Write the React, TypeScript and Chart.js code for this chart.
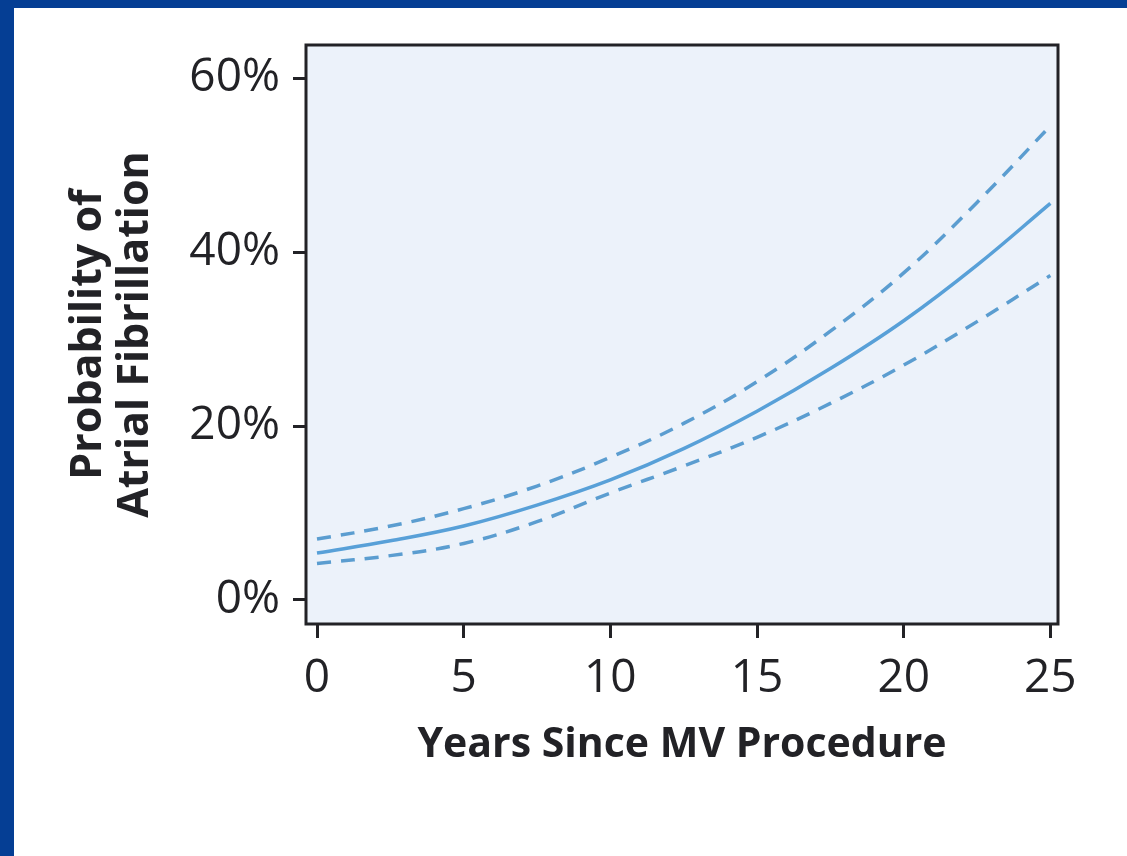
import React, { useEffect, useRef } from "react";
import { Chart, registerables } from "chart.js";

Chart.register(...registerables);

const years = [0, 2.5, 5, 7.5, 10, 12.5, 15, 17.5, 20, 22.5, 25];
const fitted = [5.4, 6.8, 8.5, 10.9, 13.8, 17.4, 21.7, 26.6, 32.1, 38.5, 45.6];
const upperCI = [7.0, 8.5, 10.5, 13.1, 16.4, 20.3, 25.1, 30.9, 37.6, 45.7, 54.5];
const lowerCI = [4.2, 5.1, 6.5, 9.0, 12.3, 15.4, 18.7, 22.6, 27.0, 32.0, 37.3];
const yTicks = [0, 20, 40, 60];
const xTicks = [0, 5, 10, 15, 20, 25];

const FONT = "'Open Sans', 'DejaVu Sans', sans-serif";
const INK = "#222226";

const framePlugin = {
  id: "frame",
  beforeDatasetsDraw(chart: any) {
    const { ctx, chartArea: a } = chart;
    ctx.save();
    ctx.fillStyle = "#ecf2fa";
    ctx.fillRect(a.left, a.top, a.right - a.left, a.bottom - a.top);
    ctx.restore();
  },
  afterDraw(chart: any) {
    const { ctx, chartArea: a } = chart;
    ctx.save();
    ctx.strokeStyle = INK;
    ctx.lineWidth = 3;
    ctx.strokeRect(a.left, a.top, a.right - a.left, a.bottom - a.top);
    ctx.restore();
  },
};

export default function App() {
  const ref = useRef<HTMLCanvasElement | null>(null);
  useEffect(() => {
    if (!ref.current) return;
    const toPts = (arr: number[]) => years.map((x, i) => ({ x, y: arr[i] }));
    const common = {
      pointRadius: 0,
      borderWidth: 3.5,
      tension: 0.4,
      fill: false,
    };
    const chart = new Chart(ref.current, {
      type: "line",
      data: {
        datasets: [
          {
            ...common,
            label: "Upper",
            data: toPts(upperCI),
            borderColor: "#5b9dd0",
            borderDash: [14, 10],
          },
          {
            ...common,
            label: "Fitted",
            data: toPts(fitted),
            borderColor: "#58a0d8",
          },
          {
            ...common,
            label: "Lower",
            data: toPts(lowerCI),
            borderColor: "#5b9dd0",
            borderDash: [14, 10],
          },
        ],
      },
      options: {
        responsive: false,
        animation: false,
        layout: { padding: { left: 0, top: 45, right: 69, bottom: 0 } },
        plugins: { legend: { display: false }, tooltip: { enabled: false } },
        scales: {
          x: {
            type: "linear",
            min: -0.375,
            max: 25.26,
            afterBuildTicks: (s: any) => {
              s.ticks = xTicks.map((v) => ({ value: v }));
            },
            afterFit: (s: any) => {
              s.height = 232;
            },
            border: { display: false },
            grid: {
              drawOnChartArea: false,
              drawTicks: true,
              tickLength: 14,
              color: INK,
              lineWidth: 3,
            },
            ticks: {
              color: INK,
              padding: 13,
              maxRotation: 0,
              font: { family: FONT, size: 46, weight: 500 },
              callback: (v: any) => String(v),
            },
            title: {
              display: true,
              text: "Years Since MV Procedure",
              color: INK,
              font: { family: FONT, size: 41, weight: "bold", lineHeight: 1.2 },
              padding: { top: 0, bottom: 86 },
            },
          },
          y: {
            type: "linear",
            min: -2.76,
            max: 63.8,
            afterBuildTicks: (s: any) => {
              s.ticks = yTicks.map((v) => ({ value: v }));
            },
            afterFit: (s: any) => {
              s.width = 306;
            },
            border: { display: false },
            grid: {
              drawOnChartArea: false,
              drawTicks: true,
              tickLength: 13,
              color: INK,
              lineWidth: 3,
            },
            ticks: {
              color: INK,
              padding: 13,
              font: { family: FONT, size: 46, weight: 500 },
              callback: (v: any) => v + "%",
            },
            title: {
              display: true,
              text: ["Probability of", "Atrial Fibrillation"],
              color: INK,
              font: { family: FONT, size: 43, weight: "bold", lineHeight: 1.1 },
              padding: { top: 65, bottom: 0 },
            },
          },
        },
      },
      plugins: [framePlugin],
    } as any);
    return () => chart.destroy();
  }, []);

  return (
    <div
      style={{
        position: "fixed",
        left: 0,
        top: 0,
        width: 1127,
        height: 856,
        background: "#053e94",
      }}
    >
      <div
        style={{
          position: "absolute",
          left: 14,
          top: 8,
          right: 0,
          bottom: 0,
          background: "#ffffff",
        }}
      />
      <canvas
        ref={ref}
        width={1127}
        height={856}
        style={{ position: "absolute", left: 0, top: 0, width: 1127, height: 856 }}
      />
    </div>
  );
}
